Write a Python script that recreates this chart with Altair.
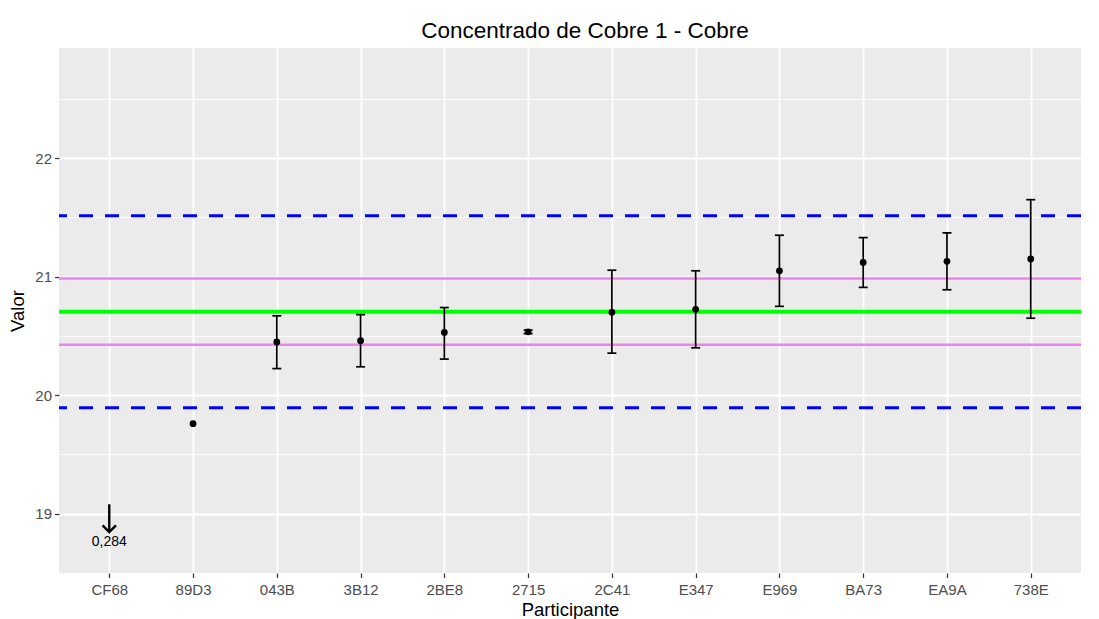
import altair as alt
import pandas as pd

participants = ["CF68", "89D3", "043B", "3B12", "2BE8", "2715", "2C41", "E347", "E969", "BA73", "EA9A", "738E"]
values = [None, 19.76, 20.45, 20.46, 20.53, 20.535, 20.70, 20.725, 21.05, 21.12, 21.13, 21.15]
lower = [None, None, 20.225, 20.24, 20.305, 20.52, 20.355, 20.40, 20.75, 20.91, 20.89, 20.65]
upper = [None, None, 20.67, 20.68, 20.74, 20.55, 21.055, 21.05, 21.35, 21.33, 21.37, 21.65]

assigned_value = 20.705
inner_limits = [20.425, 20.985]
outer_limits = [19.895, 21.515]

offscale_participant = "CF68"
offscale_label = "0,284"
arrow_from = 19.08
arrow_to = 18.845
label_at = 18.765

y_domain = [18.5, 22.93]
grid_values = [18.5, 19, 19.5, 20, 20.5, 21, 21.5, 22, 22.5]

FONT = "Liberation Sans"

df = pd.DataFrame({"Participante": participants, "Valor": values, "lo": lower, "hi": upper})
pts = df.dropna(subset=["Valor"])
bars = df.dropna(subset=["lo"])

xenc = alt.X("Participante:N", sort=participants,
             scale=alt.Scale(type="point", padding=0.6),
             axis=alt.Axis(title="Participante", labelFontSize=15, labelColor="#4D4D4D",
                           titleFontSize=18.5, titleFontWeight="normal", titleColor="black",
                           tickColor="#333333", tickSize=4.5, tickWidth=1.2, labelPadding=5,
                           titlePadding=3, domain=False, grid=True, gridColor="white",
                           gridWidth=1.8, labelAngle=0, titleFont=FONT, labelFont=FONT))

yscale = alt.Scale(domain=y_domain, nice=False, zero=False)
yaxis = alt.Axis(title="Valor", values=grid_values,
                 labelExpr="datum.value % 1 === 0 ? format(datum.value, 'd') : ''",
                 labelFontSize=15, labelColor="#4D4D4D", titleFontSize=18.5,
                 titleFontWeight="normal", titleColor="black", tickColor="#333333",
                 tickSize=4.5, labelPadding=3, titlePadding=7, domain=False,
                 gridColor="white",
                 gridWidth={"condition": {"test": "datum.value % 1 !== 0", "value": 0.9}, "value": 1.8},
                 tickWidth={"condition": {"test": "datum.value % 1 !== 0", "value": 0}, "value": 1.2},
                 titleFont=FONT, labelFont=FONT)

base_axes = alt.Chart(pts).mark_point(opacity=0).encode(
    x=xenc, y=alt.Y("Valor:Q", scale=yscale, axis=yaxis))

outer_df = pd.DataFrame({"y": outer_limits})
inner_df = pd.DataFrame({"y": inner_limits})
center_df = pd.DataFrame({"y": [assigned_value]})

outer = alt.Chart(outer_df).mark_rule(color="#0000FF", strokeWidth=3, strokeDash=[14, 12]).encode(
    y=alt.Y("y:Q", scale=yscale))
inner = alt.Chart(inner_df).mark_rule(color="#EE82EE", strokeWidth=2.5).encode(
    y=alt.Y("y:Q", scale=yscale))
center = alt.Chart(center_df).mark_rule(color="#00FF00", strokeWidth=4).encode(
    y=alt.Y("y:Q", scale=yscale))

err = alt.Chart(bars).mark_rule(color="black", strokeWidth=1.7).encode(
    x=alt.X("Participante:N", sort=participants),
    y=alt.Y("lo:Q", scale=yscale), y2="hi:Q")
cap_lo = alt.Chart(bars).mark_tick(color="black", orient="horizontal", size=9, thickness=1.7,
                                   opacity=1).encode(
    x=alt.X("Participante:N", sort=participants), y=alt.Y("lo:Q", scale=yscale))
cap_hi = alt.Chart(bars).mark_tick(color="black", orient="horizontal", size=9, thickness=1.7,
                                   opacity=1).encode(
    x=alt.X("Participante:N", sort=participants), y=alt.Y("hi:Q", scale=yscale))

points = alt.Chart(pts).mark_circle(color="black", size=46, opacity=1).encode(
    x=alt.X("Participante:N", sort=participants), y=alt.Y("Valor:Q", scale=yscale))

arrow_df = pd.DataFrame({"Participante": [offscale_participant], "a": [arrow_from],
                         "b": [arrow_to], "t": [label_at], "label": [offscale_label]})
arrow_shaft = alt.Chart(arrow_df).mark_rule(color="black", strokeWidth=2.4).encode(
    x=alt.X("Participante:N", sort=participants), y=alt.Y("a:Q", scale=yscale), y2="b:Q")
arrow_head = alt.Chart(arrow_df).mark_point(
    shape="M-1,-1L0,0L1,-1", filled=False, color="black", strokeWidth=2.4, size=180,
    opacity=1).encode(
    x=alt.X("Participante:N", sort=participants), y=alt.Y("b:Q", scale=yscale))
arrow_text = alt.Chart(arrow_df).mark_text(color="black", fontSize=14, font=FONT,
                                            baseline="middle").encode(
    x=alt.X("Participante:N", sort=participants), y=alt.Y("t:Q", scale=yscale), text="label:N")

chart = alt.layer(base_axes, outer, inner, center, err, cap_lo, cap_hi, points,
                  arrow_shaft, arrow_head, arrow_text).properties(
    width=1022, height=525,
    background="white",
    title=alt.TitleParams("Concentrado de Cobre 1 - Cobre", fontSize=22.5, font=FONT,
                          fontWeight="normal", color="black", anchor="middle", offset=6,
                          dx=15),
    autosize=alt.AutoSizeParams(type="none"),
    padding={"left": 51, "top": 40, "right": 10, "bottom": 50},
).configure_view(fill="#EBEBEB", stroke=None)

chart.save("out.html", embed_options={"renderer": "svg", "actions": False})
